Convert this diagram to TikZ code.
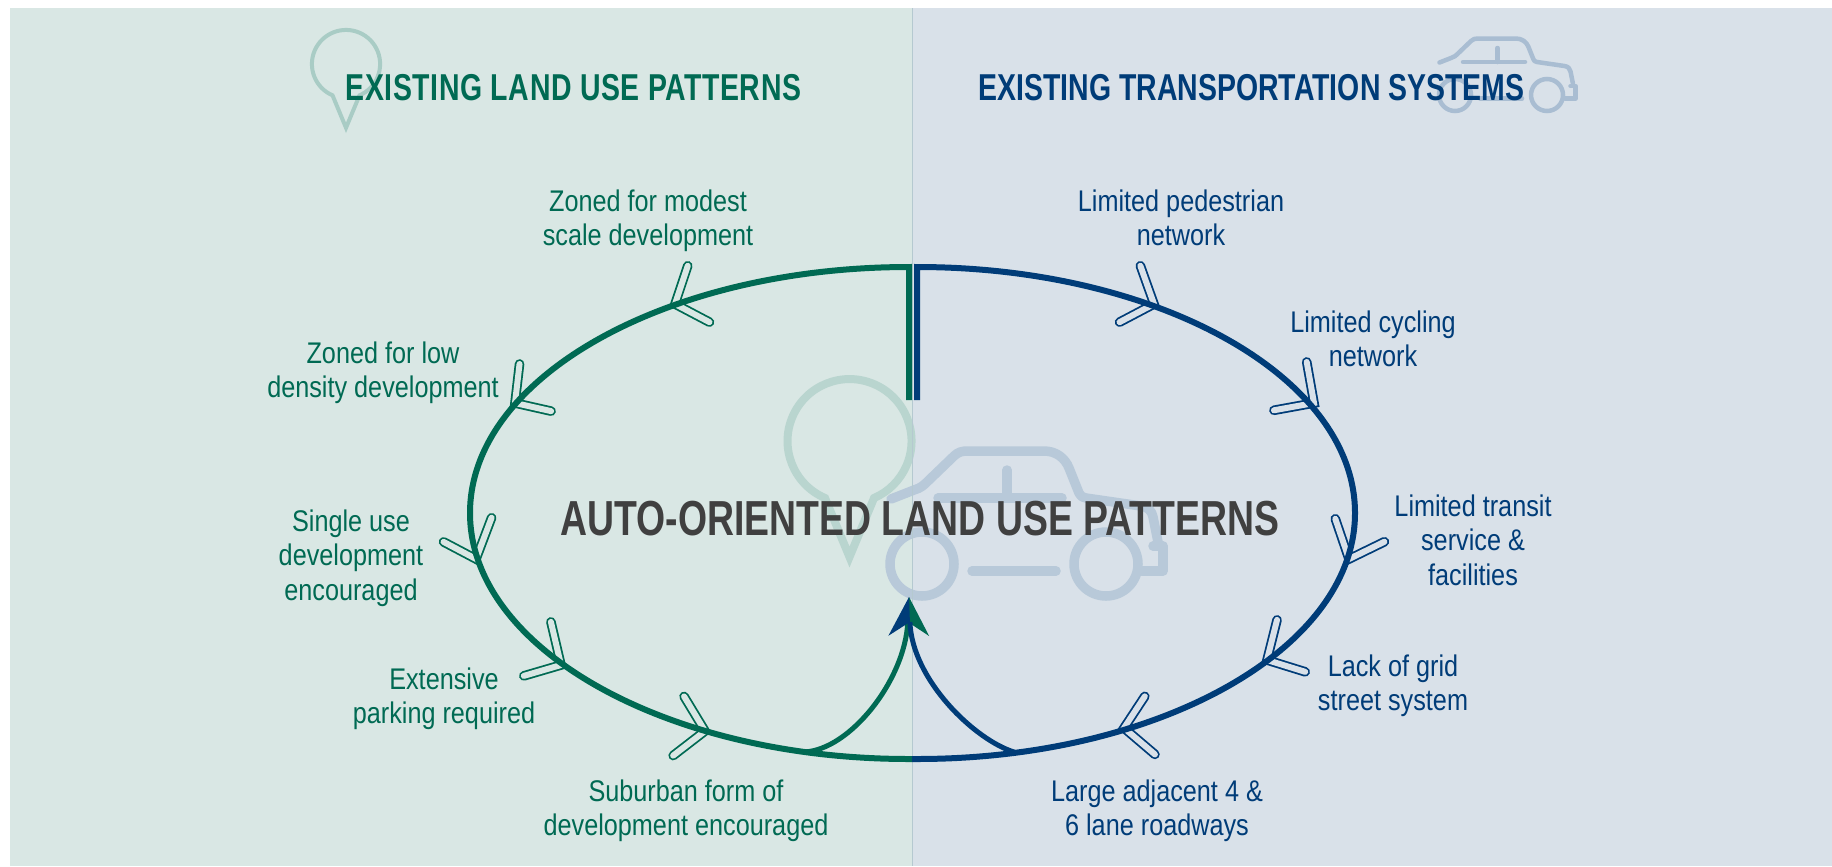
\documentclass[tikz,border=0pt]{standalone}
\usepackage{xcolor}
\usepackage{fontspec}
\usetikzlibrary{arrows.meta}

\newfontfamily\labelfont[FakeStretch=0.845]{Liberation Sans}
\newfontfamily\titlefont[FakeStretch=0.76]{Liberation Sans}
\newfontfamily\landfont[FakeStretch=0.76, LetterSpace=1.5]{Liberation Sans}

\definecolor{landbg}{HTML}{D9E7E4}
\definecolor{roadbg}{HTML}{D9E1E9}
\definecolor{landcol}{HTML}{006A53}
\definecolor{roadcol}{HTML}{003C78}
\definecolor{midcol}{HTML}{404040}
\definecolor{pinsmall}{HTML}{A9CCC5}
\definecolor{pinlarge}{HTML}{B9D5CF}
\definecolor{carsmall}{HTML}{A9BDD2}
\definecolor{carlarge}{HTML}{B8C9D9}
\definecolor{divcol}{HTML}{B5C9D0}

\tikzset{
    landlabel/.style={inner sep=0pt, align=center, text=landcol, font=\labelfont\fontsize{17}{19.6}\selectfont},
    roadlabel/.style={inner sep=0pt, align=center, text=roadcol, font=\labelfont\fontsize{17}{19.6}\selectfont},
    landhead/.style={inner sep=0pt, text=landcol, font=\landfont\bfseries\fontsize{21.3}{24}\selectfont},
    roadhead/.style={inner sep=0pt, text=roadcol, font=\titlefont\bfseries\fontsize{21.3}{24}\selectfont},
    midlabel/.style={inner sep=0pt, text=midcol, font=\titlefont\bfseries\fontsize{28}{32}\selectfont},
    landring/.style={draw=landcol, line width=0.12cm, line join=miter},
    roadring/.style={draw=roadcol, line width=0.12cm, line join=miter},
    landbarb/.style={draw=landcol, line width=0.036cm, double=landbg, double distance=0.12cm, line cap=round, line join=miter, shorten <=0.08cm, shorten >=0.08cm},
    roadbarb/.style={draw=roadcol, line width=0.036cm, double=roadbg, double distance=0.12cm, line cap=round, line join=miter, shorten <=0.08cm, shorten >=0.08cm},
    feedtip/.style={-{Stealth[harpoon, #1, length=0.76cm, width=0.88cm, inset=0.26cm, line width=0pt]}},
    pinicon/.pic={
        \draw[line join=miter] (0,116) -- (-24.5,57) arc[start angle=113.3, end angle=426.7, radius=62] -- cycle;
    },
    caricon/.pic={
        \draw[line cap=round, line join=round] (-215,-65) -- (-192,-74) .. controls (-185,-76) and (-182,-79) .. (-178,-83) -- (-152,-108) .. controls (-148,-112) and (-144,-113) .. (-138,-113) -- (-62,-113) .. controls (-50,-113) and (-41,-106) .. (-37,-96) -- (-27,-71) .. controls (-26,-68) and (-24,-67) .. (-20,-66) -- (35,-58) .. controls (42,-57) and (46,-53) .. (47,-47) -- (52,-22);
        \draw[line cap=round, line join=round] (47,-18) -- (57,-18) -- (57,7) -- (36,7);
        \draw[line cap=round] (-168,-66) -- (-44,-66);
        \draw[line cap=round] (-99,-94) -- (-99,-66);
        \draw[line cap=round] (-134,7) -- (-50,7);
        \draw (0,0) circle[radius=32];
        \draw (-184,0) circle[radius=32];
    }
}

\begin{document}
\begin{tikzpicture}[x=0.02cm, y=-0.02cm]

    \useasboundingbox (0,0) rectangle (1832,866);

    % Panels
    \fill[landbg] (10,8) rectangle (912,866);
    \fill[roadbg] (912,8) rectangle (1832,866);

    % Icons
    \pic[color=pinsmall, line width=0.08cm, scale=0.55] at (346,64) {pinicon};
    \pic[color=carsmall, line width=0.09cm, scale=0.5] at (1547,95) {caricon};
    \pic[color=pinlarge, line width=0.16cm] at (849.5,441) {pinicon};
    \pic[color=carlarge, line width=0.19cm] at (1106,564) {caricon};
    \draw[divcol, line width=0.02cm] (912,8) -- (912,866);

    % Nodes
    \node[landhead] (landtitle) at (573.5,88) {EXISTING LAND USE PATTERNS};
    \node[roadhead] (roadtitle) at (1251.5,88) {EXISTING TRANSPORTATION SYSTEMS};
    \node[midlabel] (mid) at (920,519) {AUTO-ORIENTED LAND USE PATTERNS};

    \node[landlabel] (zonedmodest) at (648,221) {Zoned for modest\\scale development};
    \node[landlabel] (zonedlow) at (383,373) {Zoned for low\\density development};
    \node[landlabel] (singleuse) at (351,558) {Single use\\development\\encouraged};
    \node[landlabel] (parking) at (444,699) {Extensive\\parking required};
    \node[landlabel] (suburban) at (686,811) {Suburban form of\\development encouraged};

    \node[roadlabel] (pedestrian) at (1181,218) {Limited pedestrian\\network};
    \node[roadlabel] (cycling) at (1373,339) {Limited cycling\\network};
    \node[roadlabel] (transit) at (1473,540) {Limited transit\\service \&\\facilities};
    \node[roadlabel] (grid) at (1393,686) {Lack of grid\\street system};
    \node[roadlabel] (roadways) at (1157,811) {Large adjacent 4 \&\\6 lane roadways};

    % Points on the ring
    \coordinate (landstart) at (909,400);
    \coordinate (landtop) at (909,267);
    \coordinate (landend) at (912,759);
    \coordinate (roadstart) at (917,400);
    \coordinate (roadtop) at (917,267);
    \coordinate (roadend) at (912,759);
    \coordinate (landfork) at (804,752);
    \coordinate (roadfork) at (1014,752);
    \coordinate (meet) at (909,597);

    \coordinate (l1a) at (689,262); \coordinate (l1) at (675,304); \coordinate (l1b) at (713,324);
    \coordinate (l2a) at (520,360); \coordinate (l2) at (515,403); \coordinate (l2b) at (555,412);
    \coordinate (l3a) at (493,514); \coordinate (l3) at (476,559); \coordinate (l3b) at (440,540);
    \coordinate (l4a) at (550,618); \coordinate (l4) at (561,665); \coordinate (l4b) at (520,677);
    \coordinate (l5a) at (682,693); \coordinate (l5) at (705,731); \coordinate (l5b) at (670,758);

    \coordinate (r1a) at (1139,262); \coordinate (r1) at (1154,304); \coordinate (r1b) at (1116,324);
    \coordinate (r2a) at (1306,358); \coordinate (r2) at (1314,403); \coordinate (r2b) at (1270,411);
    \coordinate (r3a) at (1334,515); \coordinate (r3) at (1349,559); \coordinate (r3b) at (1388,540);
    \coordinate (r4a) at (1278,616); \coordinate (r4) at (1267,660); \coordinate (r4b) at (1309,673);
    \coordinate (r5a) at (1147,693); \coordinate (r5) at (1124,728); \coordinate (r5b) at (1158,757);

    % Barbs
    \draw[landbarb] (l1a) -- (l1) -- (l1b);
    \draw[landbarb] (l2a) -- (l2) -- (l2b);
    \draw[landbarb] (l3a) -- (l3) -- (l3b);
    \draw[landbarb] (l4a) -- (l4) -- (l4b);
    \draw[landbarb] (l5a) -- (l5) -- (l5b);
    \draw[roadbarb] (r1a) -- (r1) -- (r1b);
    \draw[roadbarb] (r2a) -- (r2) -- (r2b);
    \draw[roadbarb] (r3a) -- (r3) -- (r3b);
    \draw[roadbarb] (r4a) -- (r4) -- (r4b);
    \draw[roadbarb] (r5a) -- (r5) -- (r5b);

    % Edges
    \draw[landring] (landstart) -- (landtop) arc[start angle=270, end angle=90, x radius=439, y radius=246] -- (landend);
    \draw[roadring] (roadstart) -- (roadtop) arc[start angle=-90, end angle=90, x radius=438, y radius=246] -- (roadend);
    \draw[landcol, line width=0.1cm, feedtip=swap] (landfork) .. controls (850,750) and (905,680) .. (meet);
    \draw[roadcol, line width=0.1cm, feedtip=] (roadfork) .. controls (975,740) and (912,680) .. (meet);

\end{tikzpicture}
\end{document}
